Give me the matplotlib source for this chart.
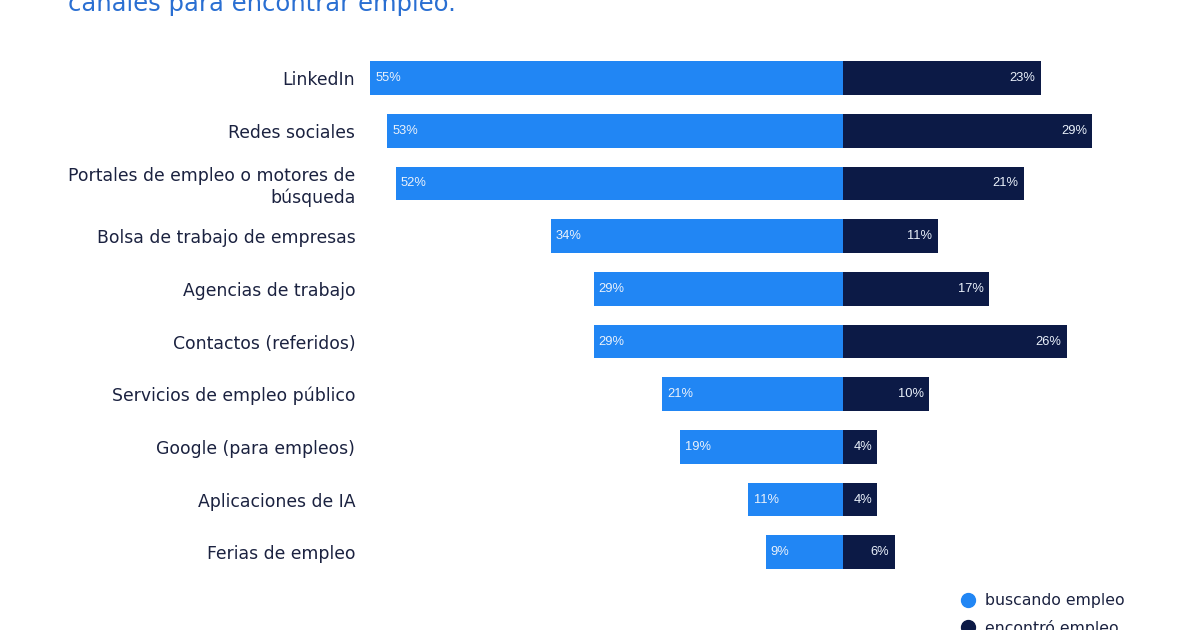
import matplotlib
matplotlib.use("Agg")
import matplotlib.pyplot as plt
from matplotlib.lines import Line2D

categories = ["LinkedIn", "Redes sociales", "Portales de empleo o motores de\nbúsqueda",
              "Bolsa de trabajo de empresas", "Agencias de trabajo", "Contactos (referidos)",
              "Servicios de empleo público", "Google (para empleos)", "Aplicaciones de IA",
              "Ferias de empleo"]
buscando = [55, 53, 52, 34, 29, 29, 21, 19, 11, 9]
encontro = [23, 29, 21, 11, 17, 26, 10, 4, 4, 6]
series_names = ["buscando empleo", "encontró empleo"]
title = "canales para encontrar empleo."

light = "#2186F4"
dark = "#0C1A46"
navy_text = "#1B2240"

W, H = 1200, 630
fig = plt.figure(figsize=(12, 6.3), dpi=100)

# pixel layout: centre line at x=843, 8.6 px per percent, rows every 52.7 px from y=78
px_per = 8.6
cx = 843
ax_left, ax_right = 365, 1150
ax = fig.add_axes([ax_left / W, 0, (ax_right - ax_left) / W, 1])
ax.set_xlim((ax_left - cx) / px_per, (ax_right - cx) / px_per)
row0, step = 78, 52.7
ax.set_ylim((H - row0) / step, -row0 / step)

y = list(range(len(categories)))
ax.barh(y, [-v for v in buscando], height=0.64, color=light, linewidth=0)
ax.barh(y, encontro, height=0.64, color=dark, linewidth=0)

for i in y:
    ax.text(-buscando[i] + 0.6, i, f"{buscando[i]}%", ha="left", va="center",
            color="#EAF1FB", fontsize=9.3, family="Liberation Sans")
    ax.text(encontro[i] - 0.6, i, f"{encontro[i]}%", ha="right", va="center",
            color="#EAF1FB", fontsize=9.3, family="Liberation Sans")

ax.set_yticks(y)
ax.set_yticklabels(categories, fontsize=12.4, color=navy_text, linespacing=1.2)
ax.tick_params(axis="y", length=0, pad=7)
ax.set_xticks([])
for s in ax.spines.values():
    s.set_visible(False)
ax.patch.set_alpha(0)

fig.text(68 / W, (H - 11) / H, title, fontsize=17.5, color="#2A6FD2", va="baseline", ha="left")

handles = [Line2D([], [], marker="o", linestyle="none", markersize=10, color=light),
           Line2D([], [], marker="o", linestyle="none", markersize=10, color=dark)]
fig.legend(handles, series_names, loc="upper left", bbox_to_anchor=(952 / W, (H - 593) / H),
           frameon=False, fontsize=11.3, labelcolor=navy_text, handletextpad=0.1,
           labelspacing=0.75, borderaxespad=0, borderpad=0)

fig.savefig("out.png", dpi=100)
